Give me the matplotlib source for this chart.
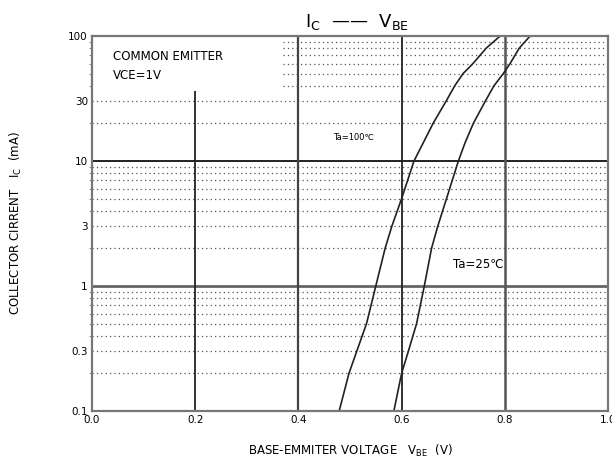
import matplotlib
matplotlib.use("Agg")
import matplotlib.pyplot as plt
from matplotlib.ticker import FixedLocator, NullFormatter

# ---- data ----
ic_ma = [0.1, 0.2, 0.3, 0.5, 1, 2, 3, 5, 10, 14, 20, 30, 40, 50, 60, 80, 100]
vbe_100c = [0.479, 0.498, 0.513, 0.532, 0.550, 0.568, 0.581, 0.600, 0.624,
            0.642, 0.661, 0.686, 0.703, 0.719, 0.738, 0.764, 0.791]
vbe_25c = [0.585, 0.600, 0.613, 0.629, 0.644, 0.658, 0.670, 0.687, 0.710,
           0.723, 0.739, 0.762, 0.779, 0.797, 0.810, 0.828, 0.849]

x_ticks = [0.0, 0.2, 0.4, 0.6, 0.8, 1.0]
x_tick_labels = ["0.0", "0.2", "0.4", "0.6", "0.8", "1.0"]
y_ticks = [0.1, 0.3, 1, 3, 10, 30, 100]
y_tick_labels = ["0.1", "0.3", "1", "3", "10", "30", "100"]

major_v = [0.2, 0.4, 0.6, 0.8]
major_h = [1, 10]
minor_low = [0.2, 0.3, 0.4, 0.5, 0.6, 0.7, 0.8, 0.9,
             2, 3, 4, 5, 6, 7, 8, 9, 20, 30]
minor_top = [40, 50, 60, 70, 80, 90]

GRID = "#555555"
SPINE = "#777777"

fig = plt.figure(figsize=(6.12, 4.67), dpi=100)
ax = fig.add_axes([0.1503, 0.1199, 0.8432, 0.8030])
ax.set_yscale("log")
ax.set_xlim(0, 1)
ax.set_ylim(0.1, 100)

# dotted minor grid
ax.hlines(minor_low, 0, 1, colors=GRID, linewidth=0.9, linestyles=(0, (1, 2.5)))
ax.hlines(minor_top, 0.37, 1, colors=GRID, linewidth=0.9, linestyles=(0, (1, 2.5)))

# solid major grid
ax.hlines(major_h, 0, 1, colors=["#666666", "#222222"], linewidth=[2.0, 1.4])
ax.vlines(major_v[0], 0.1, 36, colors="#222222", linewidth=1.3)
ax.vlines(major_v[1:], 0.1, 100, colors=["#444444", "#222222", "#555555"],
          linewidth=[1.6, 1.3, 1.8])

# curves
ax.plot(vbe_100c, ic_ma, color="#222222", linewidth=1.2)
ax.plot(vbe_25c, ic_ma, color="#222222", linewidth=1.2)

for s in ax.spines.values():
    s.set_color(SPINE)
    s.set_linewidth(1.6)

ax.xaxis.set_major_locator(FixedLocator(x_ticks))
ax.set_xticklabels(x_tick_labels)
ax.yaxis.set_major_locator(FixedLocator(y_ticks))
ax.set_yticklabels(y_tick_labels)
ax.yaxis.set_minor_locator(FixedLocator(minor_low + minor_top))
ax.yaxis.set_minor_formatter(NullFormatter())
ax.tick_params(axis="both", which="major", labelsize=7.5, length=0, pad=3)
ax.tick_params(axis="y", which="minor", length=2, color=SPINE)

ax.text(0.04, 0.945, "COMMON EMITTER", transform=ax.transAxes,
        fontsize=8.5, va="center")
ax.text(0.04, 0.895, "VCE=1V", transform=ax.transAxes,
        fontsize=8.5, va="center")
ax.text(0.468, 0.73, "Ta=100\u2103", transform=ax.transAxes,
        fontsize=6, va="center")
ax.text(0.70, 0.39, "Ta=25\u2103", transform=ax.transAxes,
        fontsize=8.5, va="center")

fig.text(0.583, 0.953, "I$_{\\rm C}$  \u2014\u2014  V$_{\\rm BE}$",
         ha="center", va="center", fontsize=13)

ax.set_xlabel("BASE-EMMITER VOLTAGE   V$_{\\rm BE}$  (V)", fontsize=8.5, labelpad=13)
ax.set_ylabel("COLLECTOR CIRRENT   I$_{\\rm C}$  (mA)", fontsize=8.5, labelpad=32)

fig.savefig("out.png", dpi=100, facecolor="white")
